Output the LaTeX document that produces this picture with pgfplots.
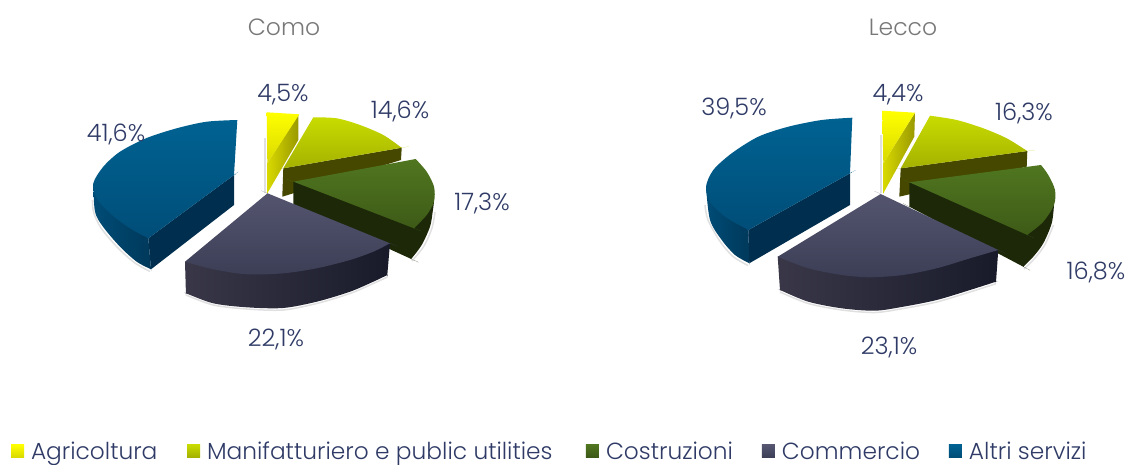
\documentclass[border=0pt]{standalone}
\usepackage{fontspec}
\setmainfont{Poppins Light}
\usepackage{pgfplots}
\pgfplotsset{compat=1.18}
\definecolor{lab}{HTML}{2F3B66}
\tikzset{
 ytop/.style={draw=none,top color=yellow!100!white,bottom color=yellow!85!black},
 yside/.style={draw=none,left color=yellow!85!black,right color=yellow!60!black},
 ltop/.style={draw=none,top color={rgb,255:red,200;green,220;blue,0},bottom color={rgb,255:red,163;green,175;blue,0}},
 lside/.style={draw=none,fill={rgb,255:red,70;green,72;blue,0}},
 gtop/.style={draw=none,top color={rgb,255:red,80;green,118;blue,32},bottom color={rgb,255:red,60;green,88;blue,22}},
 gside/.style={draw=none,fill={rgb,255:red,28;green,40;blue,8}},
 ctop/.style={draw=none,top color={rgb,255:red,86;green,86;blue,112},bottom color={rgb,255:red,60;green,62;blue,86}},
 cside/.style={draw=none,left color={rgb,255:red,58;green,56;blue,72},right color={rgb,255:red,24;green,26;blue,42}},
 btop/.style={draw=none,top color={rgb,255:red,0;green,98;blue,146},bottom color={rgb,255:red,0;green,76;blue,118}},
 bout/.style={draw=none,left color={rgb,255:red,0;green,76;blue,118},right color={rgb,255:red,0;green,56;blue,90}},
 bin/.style={draw=none,fill={rgb,255:red,0;green,46;blue,78}},
 shad/.style={draw=black!12,line width=1.5pt,no marks,fill=none,smooth},
 lbl/.style={font=\fontsize{24}{26}\selectfont,text=lab,inner sep=0pt,anchor=center},
 ttl/.style={font=\fontsize{23.5}{26}\selectfont,text={rgb,255:red,120;green,120;blue,120},inner sep=0pt,anchor=center},
}
\newcommand\swatch[1]{\addlegendimage{legend image code/.code={\fill[#1,draw=none] (0pt,-6.5pt) rectangle (13pt,6.5pt);}}}
\begin{document}
\begin{tikzpicture}
\useasboundingbox (0pt,0pt) rectangle (1130pt,464pt);
\begin{axis}[at={(0pt,0pt)},anchor=south west,width=1130pt,height=464pt,scale only axis,xmin=0,xmax=1130,ymin=0,ymax=464,y dir=reverse,
 hide axis,clip=false,
 legend columns=5,legend cell align=left,
 legend style={draw=none,fill=none,at={(axis cs:11,451)},anchor=west,inner sep=0pt,outer sep=0pt,
  font=\fontsize{23.3}{26}\selectfont,text=lab,
  /tikz/every even column/.append style={column sep=7pt}},
 ]
\swatch{ytop}\swatch{ltop}\swatch{gtop}\swatch{ctop}\swatch{btop}
\addlegendentry{\makebox[152pt][l]{\hspace*{5pt}Agricoltura}}
\addlegendentry{\makebox[375pt][l]{\hspace*{5pt}Manifatturiero e public utilities}}
\addlegendentry{\makebox[152pt][l]{\hspace*{5pt}Costruzioni}}
\addlegendentry{\makebox[163pt][l]{\hspace*{5pt}Commercio}}
\addlegendentry{\makebox[146pt][l]{\hspace*{5pt}Altri servizi}}
% ---------- Como
\addplot[shad] coordinates {(265,138)(265,165)(265,193)};
\addplot[shad] coordinates {(186,295)(213.3,305)(246.7,309)(283,310)(316.7,303.5)(350,293.5)(373.3,283.5)(387.3,277)};
\addplot[shad] coordinates {(92.5,200)(93.5,212)(101,228)(118,248)(135,263)(150,271.5)};
\addplot[shad] coordinates {(435,212)(432,228)(424,246)(412,261)};
\addplot[yside] coordinates {(298.3,115)(298.3,140)(267.3,193.3)(267.3,163.3)} --cycle;
\addplot[ytop] coordinates {(266.7,112.3)(299.3,114.3)(267.3,163.3)} --cycle;
\addplot[lside] coordinates {(283.3,168.3)(401.7,147.7)(401,160)(282.3,196.7)} --cycle;
\addplot[ltop,smooth] coordinates {(313.3,117.3)(336.7,118.3)(360,125)(383.3,135)(400.5,146.9)(401.7,147.7)(401.7,147.7)(284.5,168.1)(283.3,168.3)(283.3,168.3)} --cycle;
\addplot[gside,smooth] coordinates {(434,201.7)(432.7,211.7)(430,226.7)(421.7,245)(412,258)(411.3,259)(411.3,259)(294.3,205.5)(293.3,205)(293.3,205)(293.3,182.5)(293.3,181.7)(293.3,181.7)} --cycle;
\addplot[gtop,smooth] coordinates {(415.7,159)(426.7,171.7)(434,186.7)(434,201.7)(426.7,215)(414.8,227.5)(414,228.3)(414,228.3)(294.3,182)(293.3,181.7)(293.3,181.7)} --cycle;
\addplot[cside,smooth] coordinates {(185,261.7)(185.9,292.5)(186,293.3)(186,293.3)(213.3,303.3)(246.7,307.3)(283,308)(316.7,301.7)(350,291.7)(373.3,281.7)(386.5,275.4)(387.3,275)(387.3,275)(389.9,244.3)(390,243.3)(390,243.3)} --cycle;
\addplot[ctop,smooth] coordinates {(185,261.7)(213.3,269.3)(246.7,274.3)(283.3,273.3)(316.7,268.3)(350,260)(373.3,251.7)(389,243.8)(390,243.3)(390,243.3)(268.5,193.7)(267.5,193.3)(267.5,193.3)} --cycle;
\addplot[bin] coordinates {(148.3,238.3)(151,269.3)(234,205)(234,175)} --cycle;
\addplot[bout,smooth] coordinates {(93.3,183.3)(95,211.7)(103,226.7)(120,246.7)(136.7,261.7)(150,268.8)(151,269.3)(151,269.3)(148.4,239.3)(148.3,238.3)(148.3,238.3)} --cycle;
\addplot[btop,smooth] coordinates {(237.3,120)(206.7,121.7)(176.7,128.3)(146.7,138)(120,151.7)(103.3,166.7)(93.3,183.3)(96.7,198.3)(110,213.3)(130,228.3)(147.3,237.8)(148.3,238.3)(148.3,238.3)(233.2,175.6)(234,175)(234,175)} --cycle;
% ---------- Lecco
\addplot[shad] coordinates {(881,135)(881,165)(881,193)};
\addplot[shad] coordinates {(780,292)(808.3,303.5)(841.7,310)(875,312.5)(903.3,308.5)(936.7,302)(970,292)(996,283.7)};
\addplot[shad] coordinates {(705,205)(708,220)(719.7,241)(733,256.5)(748,265.5)};
\addplot[shad] coordinates {(1053.5,225)(1045,244.5)(1035,258)(1024,269)};
\addplot[yside] coordinates {(915,112.7)(914.3,136.7)(883.3,193.3)(883.3,163.3)} --cycle;
\addplot[ytop] coordinates {(882.3,110.7)(915,112.7)(883.3,163.3)} --cycle;
\addplot[lside] coordinates {(900.7,168.3)(1027.3,151)(1026.7,166.7)(899.3,196.7)} --cycle;
\addplot[ltop,smooth] coordinates {(930,115.7)(956.7,120)(983.3,128.3)(1006.7,138.3)(1026.3,150.4)(1027.3,151)(1027.3,151)(901.7,168.2)(900.7,168.3)(900.7,168.3)} --cycle;
\addplot[gside,smooth] coordinates {(1054,205)(1051.7,223.3)(1043.3,243.3)(1033.3,256.7)(1024,266)(1023.3,266.7)(1023.3,266.7)(910.3,207.2)(909.3,206.7)(909.3,206.7)(909.3,183.3)(909.3,182.3)(909.3,182.3)} --cycle;
\addplot[gtop,smooth] coordinates {(1041,165)(1048.3,175)(1055,190)(1054,205)(1043.3,221.7)(1028,234.4)(1027.3,235)(1027.3,235)(910.3,182.7)(909.3,182.3)(909.3,182.3)} --cycle;
\addplot[cside,smooth] coordinates {(777.7,256.7)(779.9,289)(780,290)(780,290)(808.3,301.7)(841.7,308.3)(875,310.7)(903.3,306.7)(936.7,300)(970,290)(995,282)(996,281.7)(996,281.7)(998.2,251)(998.3,250)(998.3,250)} --cycle;
\addplot[ctop,smooth] coordinates {(777.7,256.7)(808.3,268.3)(841.7,275)(870,277.3)(903,275)(936.7,268.3)(970,258.3)(997.3,250.3)(998.3,250)(998.3,250)(881.7,194.5)(880.7,194)(880.7,194)} --cycle;
\addplot[bin] coordinates {(748.3,230)(749.3,263.3)(850,205)(850,173.3)} --cycle;
\addplot[bout,smooth] coordinates {(706,186.7)(710,220)(721.7,240)(735,255)(748.4,262.8)(749.3,263.3)(749.3,263.3)(748.4,231)(748.3,230)(748.3,230)} --cycle;
\addplot[btop,smooth] coordinates {(852.3,117.7)(821.7,120)(788.3,126.7)(758.3,136.7)(731.7,153.3)(713.3,170)(706,186.7)(710,201.7)(725,216.7)(747.4,229.5)(748.3,230)(748.3,230)(849.1,173.8)(850,173.3)(850,173.3)} --cycle;
% ---------- text
\node[ttl] at (axis cs:284,27) {Como};
\node[ttl] at (axis cs:903,27) {Lecco};
\node[lbl] at (axis cs:283,95) {4,5\%};
\node[lbl] at (axis cs:400,111) {14,6\%};
\node[lbl] at (axis cs:116,134) {41,6\%};
\node[lbl] at (axis cs:482,203) {17,3\%};
\node[lbl] at (axis cs:276,339) {22,1\%};
\node[lbl] at (axis cs:898,95) {4,4\%};
\node[lbl] at (axis cs:1024,113) {16,3\%};
\node[lbl] at (axis cs:734,108) {39,5\%};
\node[lbl] at (axis cs:1096,272) {16,8\%};
\node[lbl] at (axis cs:889,347) {23,1\%};
\end{axis}
\end{tikzpicture}
\end{document}
